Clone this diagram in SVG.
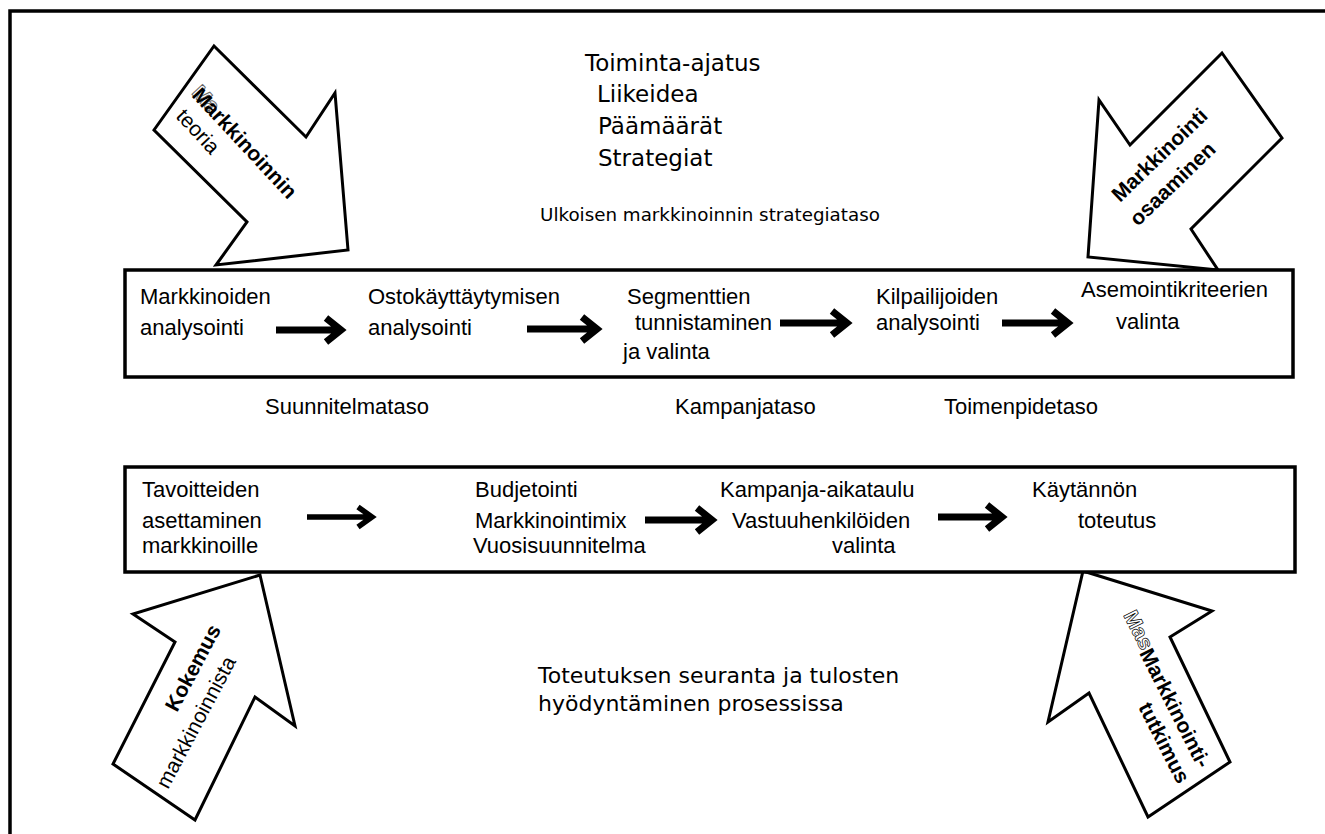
<svg xmlns="http://www.w3.org/2000/svg" width="1325" height="834" viewBox="0 0 1325 834">
  <defs>
    <style>
      .frame{fill:none;stroke:#000;stroke-width:3.5}
      .box{fill:#fff;stroke:#000;stroke-width:3.5}
      .big{fill:#fff;stroke:#000;stroke-width:3;stroke-linejoin:miter}
      .t{font-family:"Liberation Sans",Arial,sans-serif;font-size:22px;fill:#000}
      .h{font-family:"DejaVu Sans",Verdana,sans-serif;fill:#000}
      .lbl{font-family:"Liberation Sans",Arial,sans-serif;font-size:21px;fill:#000}
      .b{font-weight:bold}
      .ghost{fill:#fff;stroke:#000;stroke-width:0.7}
      .shadow{fill:none;stroke:#000;stroke-width:1;opacity:0.6}
      .flow{fill:none;stroke:#000;stroke-width:7;stroke-linejoin:miter}
      .flow-thin{fill:none;stroke:#000;stroke-width:5.5;stroke-linejoin:miter}
    </style>
  </defs>

  <rect width="1325" height="834" fill="#fff"/>

  <!-- outer frame (top and left edges) -->
  <path class="frame" d="M10,834 V11 H1325"/>

  <!-- central headings -->
  <g id="mission">
    <text class="h" font-size="23" x="585" y="71">Toiminta-ajatus</text>
    <text class="h" font-size="23" x="597" y="102">Liikeidea</text>
    <text class="h" font-size="23" x="598" y="134">Päämäärät</text>
    <text class="h" font-size="23" x="598" y="166">Strategiat</text>
  </g>
  <g id="strategy-level">
    <text class="h" font-size="18.3" x="540" y="221">Ulkoisen markkinoinnin strategiataso</text>
  </g>
  <g id="follow-up">
    <text class="h" font-size="22" x="538" y="683">Toteutuksen seuranta ja tulosten</text>
    <text class="h" font-size="22" x="538" y="711">hyödyntäminen prosessissa</text>
  </g>

  <!-- block arrows pointing at the process boxes -->
  <g id="arrow-theory">
    <polygon class="big" points="214,46 306,137 335,93 348,250 216,265 247,222 154,130"/>
    <g transform="translate(191,96) rotate(47)">
      <text class="lbl b shadow" x="-2" y="-2" font-size="24">Ma</text>
      <text class="lbl b" x="0" y="0" font-size="24">Markkinoinnin</text>
    </g>
    <text class="lbl" font-size="23" transform="translate(175,117) rotate(47)">teoria</text>
  </g>

  <g id="arrow-skills">
    <polygon class="big" points="1222,53 1282,138 1191,229 1218,270 1088,257 1099,100 1130,145"/>
    <text class="lbl b" transform="translate(1120,203) rotate(-44)">Markkinointi</text>
    <text class="lbl b" transform="translate(1138,227) rotate(-44)">osaaminen</text>
  </g>

  <g id="arrow-experience">
    <polygon class="big" points="260,575 295,726 255,697 195,820 113,764 175,642 133,614"/>
    <text class="lbl b" transform="translate(177,713) rotate(-62)">Kokemus</text>
    <text class="lbl" transform="translate(168,790) rotate(-62)">markkinoinnista</text>
  </g>

  <g id="arrow-research">
    <polygon class="big" points="1083,571 1212,611 1170,637 1230,762 1148,817 1089,693 1048,722"/>
    <text class="lbl b ghost" transform="translate(1123,615) rotate(63)">Mas</text>
    <text class="lbl b" transform="translate(1139,653) rotate(63)">Markkinointi-</text>
    <text class="lbl b" transform="translate(1138,707) rotate(63)">tutkimus</text>
  </g>

  <!-- upper process box: analysis steps -->
  <g id="analysis-box">
    <rect class="box" x="125" y="270" width="1168" height="107"/>
    <g id="n-markets">
      <text class="t" x="140" y="304">Markkinoiden</text>
      <text class="t" x="140" y="335">analysointi</text>
    </g>
    <g id="n-buying">
      <text class="t" x="368" y="304">Ostokäyttäytymisen</text>
      <text class="t" x="368" y="335">analysointi</text>
    </g>
    <g id="n-segments">
      <text class="t" x="627" y="304">Segmenttien</text>
      <text class="t" x="635" y="330">tunnistaminen</text>
      <text class="t" x="623" y="359">ja valinta</text>
    </g>
    <g id="n-competitors">
      <text class="t" x="876" y="304">Kilpailijoiden</text>
      <text class="t" x="876" y="330">analysointi</text>
    </g>
    <g id="n-positioning">
      <text class="t" x="1081" y="297">Asemointikriteerien</text>
      <text class="t" x="1116" y="329">valinta</text>
    </g>
  </g>

  <!-- level names between the boxes -->
  <g id="levels">
    <text class="t" x="265" y="414">Suunnitelmataso</text>
    <text class="t" x="675" y="414">Kampanjataso</text>
    <text class="t" x="944" y="414">Toimenpidetaso</text>
  </g>

  <!-- lower process box: implementation steps -->
  <g id="implementation-box">
    <rect class="box" x="125" y="467" width="1170" height="105"/>
    <g id="n-goals">
      <text class="t" x="142" y="497">Tavoitteiden</text>
      <text class="t" x="142" y="528">asettaminen</text>
      <text class="t" x="142" y="553">markkinoille</text>
    </g>
    <g id="n-budget">
      <text class="t" x="475" y="497">Budjetointi</text>
      <text class="t" x="475" y="528">Markkinointimix</text>
      <text class="t" x="473" y="553">Vuosisuunnitelma</text>
    </g>
    <g id="n-schedule">
      <text class="t" x="720" y="497">Kampanja-aikataulu</text>
      <text class="t" x="732" y="528">Vastuuhenkilöiden</text>
      <text class="t" x="832" y="553">valinta</text>
    </g>
    <g id="n-practice">
      <text class="t" x="1032" y="497">Käytännön</text>
      <text class="t" x="1078" y="528">toteutus</text>
    </g>
  </g>

  <!-- step connectors -->
  <g id="connectors">
    <path class="flow" d="M276,330 H337 M326,318 L341,330 L326,342"/>
    <path class="flow" d="M527,329 H593 M582,317 L597,329 L582,341"/>
    <path class="flow" d="M780,323 H843 M832,311 L847,323 L832,335"/>
    <path class="flow" d="M1002,323 H1064 M1053,311 L1068,323 L1053,335"/>
    <path class="flow-thin" d="M307,517 H368 M358,507 L372,517 L358,527"/>
    <path class="flow" d="M645,520 H708 M697,508 L712,520 L697,532"/>
    <path class="flow" d="M938,517 H998 M987,505 L1002,517 L987,529"/>
  </g>
</svg>
